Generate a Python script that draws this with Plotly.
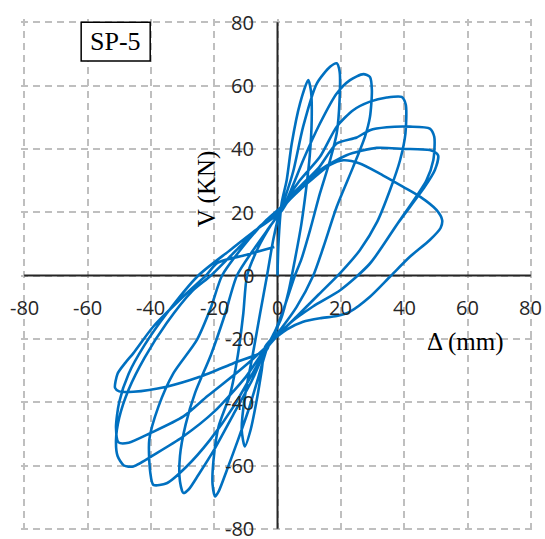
import plotly.graph_objects as go

# Hysteresis record of specimen SP-5: lateral displacement (mm) vs shear force (kN),
# stored cycle by cycle (positive half then negative half).
disp_start = [0.0, 0.3]
force_start = [0.0, 10.0]

disp_c1 = [1.3, 2.9, 4.5, 7.1, 9.7, 10.6, 10.8, 10.2, 9.0, 7.5, 5.5, 3.5, 1.0, -2.0, -3.9,
           -5.0, -6.5, -8.5, -10.3, -11.3, -10.3, -8.0, -5.5, -3.3, -1.2, 1.0]
force_c1 = [22.8, 30.1, 41.7, 54.3, 61.7, 58.0, 49.0, 38.0, 27.0, 16.0, 5.0, -5.0, -14.0, -20.0, -22.5,
            -30.0, -39.0, -48.8, -54.0, -48.8, -38.2, -26.0, -12.0, 0.0, 12.0, 21.0]

disp_c2 = [2.5, 5.0, 8.1, 12.4, 16.6, 18.7, 19.6, 19.6, 18.7, 16.6, 13.4, 10.3, 7.5, 5.5, 2.5, -0.5, -3.0,
           -6.0, -9.0, -12.5, -16.0, -18.5, -19.7, -20.5, -20.2, -18.6, -14.9, -12.5, -10.8, -9.6, -6.0, -2.0, 1.5]
force_c2 = [25.0, 33.0, 47.0, 60.6, 65.9, 67.0, 64.5, 55.4, 44.9, 36.4, 25.9, 14.4, 5.0, 0.0, -9.0, -17.0, -22.0,
            -32.0, -42.0, -52.0, -61.5, -68.0, -69.8, -66.0, -58.2, -47.7, -37.2, -25.0, -12.0, 0.0, 9.0, 16.0, 21.0]

disp_c3 = [3.0, 5.5, 8.1, 13.4, 18.7, 22.9, 27.1, 29.2, 29.8, 29.2, 27.6, 23.9, 18.7, 14.5, 11.3, 6.0, 1.0, -3.0,
           -8.0, -14.0, -20.0, -25.0, -28.0, -29.7, -30.8, -30.8, -29.0, -26.0, -21.0, -16.5, -12.8, -7.0, -2.0, 1.5]
force_c3 = [24.0, 30.0, 36.4, 48.0, 57.5, 61.7, 63.6, 62.7, 58.5, 50.1, 43.8, 34.3, 21.7, 9.0, 0.0, -10.0, -17.0, -22.0,
            -33.0, -44.0, -55.0, -63.0, -67.5, -68.7, -65.0, -57.0, -47.0, -37.0, -25.0, -12.0, 0.0, 9.0, 16.0, 21.0]

disp_c4 = [3.0, 7.0, 13.4, 18.7, 23.9, 29.2, 34.5, 39.2, 40.5, 40.4, 38.7, 35.5, 31.5, 26.0, 20.0, 13.0, 6.0, 0.0, -3.4,
           -5.5, -13.9, -21.3, -28.7, -35.0, -39.2, -40.2, -40.5, -37.6, -32.9, -25.5, -21.0, -17.5, -11.0, -4.0, 1.5]
force_c4 = [24.0, 30.0, 37.5, 47.0, 52.2, 54.9, 56.2, 56.4, 54.0, 44.8, 36.4, 26.9, 17.0, 8.0, 1.0, -6.0, -13.0, -19.0, -23.0,
            -26.7, -41.4, -51.9, -60.3, -65.6, -66.1, -62.0, -51.9, -41.4, -30.9, -20.4, -10.0, 0.0, 9.0, 17.0, 22.0]

disp_c5 = [3.0, 8.0, 13.0, 18.7, 25.0, 29.2, 34.5, 41.8, 48.1, 49.5, 49.2, 47.0, 38.0, 29.2, 20.0, 11.2, 4.0, -3.0,
           -10.0, -20.0, -30.0, -38.0, -45.5, -48.5, -50.5, -51.0, -50.0, -47.0, -42.0, -35.0, -27.0, -21.0, -13.0, -5.0, 1.0]
force_c5 = [24.0, 29.0, 34.0, 41.7, 43.6, 45.9, 46.8, 47.0, 46.4, 43.8, 36.4, 30.0, 16.5, 3.8, -4.5, -9.8, -15.0, -22.0,
            -32.0, -43.0, -51.0, -56.0, -60.3, -60.0, -57.0, -52.0, -45.0, -36.0, -26.0, -15.0, -5.0, 0.0, 8.0, 16.0, 21.0]

disp_c6 = [3.0, 8.0, 13.4, 21.8, 31.3, 39.7, 48.1, 50.7, 49.7, 46.5, 38.0, 29.0, 20.0, 11.2, 4.0, -3.0,
           -12.0, -22.0, -29.7, -40.2, -47.0, -50.2, -51.0, -50.0, -47.0, -42.0, -35.0, -25.0, -15.0, -6.0, 1.0]
force_c6 = [24.0, 28.0, 33.3, 38.0, 40.3, 40.0, 39.6, 38.0, 33.3, 28.0, 16.5, 3.5, -4.5, -9.8, -15.0, -22.0,
            -30.0, -38.0, -44.5, -49.8, -52.8, -52.7, -48.0, -40.0, -31.0, -22.0, -12.0, 0.0, 8.0, 15.0, 20.0]

disp_c7 = [3.0, 7.0, 11.3, 16.6, 20.8, 26.0, 32.3, 39.7, 45.0, 50.2, 52.0, 51.5, 48.1, 41.8, 35.5, 29.2, 22.9, 18.7,
           13.4, 8.1, 3.0, -2.4, -3.4, -13.9, -24.5, -35.0, -45.5, -50.0, -51.3, -50.5, -48.0, -45.5, -39.2, -28.7,
           -22.4, -19.0, -10.0, -1.0]
force_c7 = [23.0, 27.0, 30.7, 34.9, 36.4, 35.4, 32.2, 28.0, 24.9, 20.7, 17.5, 15.0, 11.2, 5.9, -0.4, -6.7, -11.4, -12.8,
            -13.5, -14.6, -17.0, -21.3, -23.5, -27.7, -32.0, -35.1, -36.7, -36.6, -35.5, -31.0, -27.5, -24.5, -16.1, -5.6,
            0.2, 4.0, 6.5, 9.0]

tick_values = [-80, -60, -40, -20, 0, 20, 40, 60, 80]
tick_text = [str(v) for v in tick_values]

disp = (disp_start + disp_c1 + disp_c2 + disp_c3 + disp_c4 + disp_c5 + disp_c6 + disp_c7)
force = (force_start + force_c1 + force_c2 + force_c3 + force_c4 + force_c5 + force_c6 + force_c7)

lo, hi = tick_values[0], tick_values[-1]

fig = go.Figure()
fig.add_trace(go.Scatter(
    x=disp, y=force, mode="lines",
    line=dict(color="#0070C0", width=2.6, shape="spline", smoothing=0.7),
    hoverinfo="skip", showlegend=False,
))

# Range padded by one unit so the dashed grid is drawn on the ±80 border too
axis_style = dict(
    range=[lo - 1, hi + 1], tickvals=tick_values, showticklabels=False, ticks="",
    showgrid=True, gridcolor="#BFBFBF", gridwidth=1.5, griddash="7px,5px",
    zeroline=False, showline=False, fixedrange=True,
)
fig.update_xaxes(**axis_style)
fig.update_yaxes(**axis_style)

tick_font = dict(family="Open Sans", size=20, color="#262626")
annotations = []
for v, t in zip(tick_values, tick_text):
    annotations.append(dict(x=v, y=0, xref="x", yref="y", text=t, showarrow=False,
                            xanchor="center", yanchor="middle", yshift=-32, font=tick_font))
    annotations.append(dict(x=0, y=v, xref="x", yref="y", text=t, showarrow=False,
                            xanchor="right", yanchor="middle", xshift=-22, font=tick_font))

title_font = dict(family="Liberation Serif", size=25, color="black")
annotations.append(dict(x=-22.2, y=27.3, xref="x", yref="y", text="V (KN)",
                        textangle=-90, showarrow=False, xanchor="center", yanchor="middle",
                        font=title_font))
annotations.append(dict(x=59.3, y=-21.1, xref="x", yref="y", text="Δ (mm)",
                        showarrow=False, xanchor="center", yanchor="middle", font=title_font))
annotations.append(dict(x=-51.1, y=73.8, xref="x", yref="y", text="SP-5",
                        showarrow=False, xanchor="center", yanchor="middle",
                        font=dict(family="Liberation Serif", size=26, color="black")))

# Solid axes through the origin, above the grid and beneath the curve
axis_lines = [
    dict(type="line", xref="x", yref="y", x0=lo, x1=hi, y0=0, y1=0,
         line=dict(color="#262626", width=2), layer="between"),
    dict(type="line", xref="x", yref="y", x0=0, x1=0, y0=lo, y1=hi,
         line=dict(color="#262626", width=2), layer="between"),
]
label_box = dict(type="rect", xref="x", yref="y", x0=-62.0, x1=-40.2, y0=67.7, y1=80.0,
                 line=dict(color="black", width=1.5), fillcolor="white", layer="above")

fig.update_layout(
    width=545, height=539,
    margin=dict(l=21, r=11, t=19, b=7),
    paper_bgcolor="white", plot_bgcolor="white",
    annotations=annotations,
    shapes=axis_lines + [label_box],
)

fig.write_html("out.html")
